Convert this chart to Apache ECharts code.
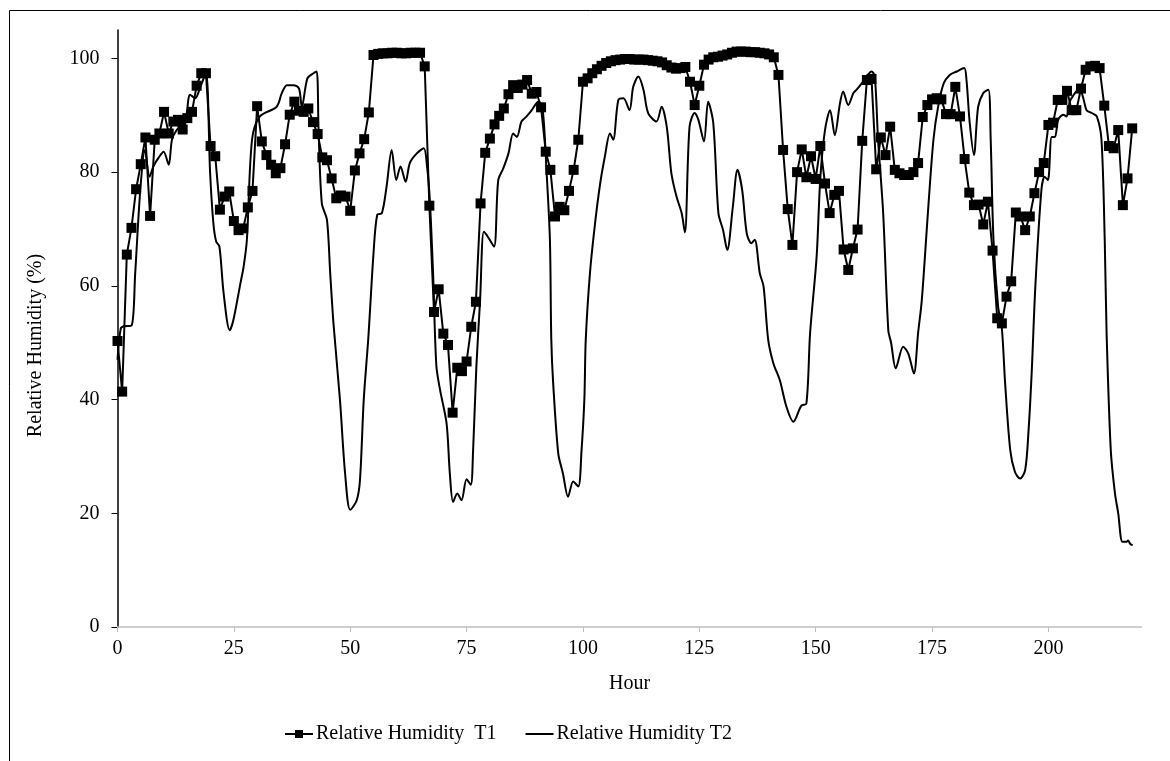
<!DOCTYPE html>
<html>
<head>
<meta charset="utf-8">
<script src="https://cdn.jsdelivr.net/npm/echarts@6/dist/echarts.min.js"></script>
<style>
html,body{margin:0;padding:0;background:#fff;}
#chart{width:1170px;height:761px;}
</style>
</head>
<body>
<div id="chart"></div>
<script>
// Tick labels
const xTicks = [0, 25, 50, 75, 100, 125, 150, 175, 200];
const yTicks = [0, 20, 40, 60, 80, 100];

// Relative Humidity T1: hourly readings, hour 0 .. 218
const t1Values = [
  50.3, 41.4, 65.5, 70.2, 77.0, 81.4, 86.1, 72.3, 85.7, 86.8,
  90.6, 86.8, 88.9, 89.2, 87.5, 89.5, 90.6, 95.2, 97.4, 97.4,
  84.6, 82.8, 73.4, 75.7, 76.6, 71.4, 69.8, 70.1, 73.8, 76.7,
  91.6, 85.4, 83.0, 81.3, 79.8, 80.7, 84.9, 90.1, 92.4, 90.8,
  90.6, 91.2, 88.8, 86.7, 82.6, 82.1, 78.9, 75.4, 75.9, 75.7,
  73.2, 80.3, 83.3, 85.8, 90.5, 100.6, 100.8, 100.9, 100.9, 101.0,
  101.0, 100.9, 100.9, 101.0, 101.0, 101.0, 98.6, 74.1, 55.4, 59.4,
  51.6, 49.6, 37.7, 45.6, 45.0, 46.7, 52.8, 57.2, 74.5, 83.4,
  85.9, 88.4, 89.9, 91.2, 93.7, 95.3, 94.8, 95.4, 96.2, 93.8,
  94.1, 91.4, 83.6, 80.4, 72.2, 73.9, 73.3, 76.7, 80.4, 85.7,
  95.9, 96.5, 97.4, 98.1, 98.7, 99.2, 99.5, 99.7, 99.8, 99.9,
  99.9, 99.8, 99.8, 99.8, 99.7, 99.6, 99.5, 99.3, 98.8, 98.4,
  98.2, 98.3, 98.5, 95.9, 91.8, 95.2, 98.9, 99.8, 100.2, 100.3,
  100.5, 100.7, 101.0, 101.2, 101.2, 101.2, 101.1, 101.1, 101.0, 100.9,
  100.7, 100.2, 97.1, 83.9, 73.5, 67.2, 80.0, 84.0, 79.1, 82.8,
  78.8, 84.6, 78.0, 72.8, 76.0, 76.7, 66.4, 62.8, 66.6, 69.9,
  85.5, 96.2, 96.4, 80.5, 86.1, 83.0, 88.0, 80.4, 79.8, 79.5,
  79.5, 80.0, 81.6, 89.7, 91.8, 92.8, 93.0, 92.8, 90.2, 90.2,
  95.0, 89.8, 82.3, 76.4, 74.2, 74.3, 70.8, 74.8, 66.2, 54.3,
  53.4, 58.1, 60.8, 72.9, 72.2, 69.8, 72.2, 76.3, 80.0, 81.6,
  88.3, 88.7, 92.7, 92.7, 94.3, 90.9, 90.9, 94.7, 98.0, 98.6,
  98.7, 98.3, 91.7, 84.6, 84.2, 87.4, 74.2, 78.9, 87.7
];

// Relative Humidity T2: hours and values
const t2Hours = [
  0, 0.7, 1.4, 3.0, 3.8, 4.9, 5.9, 6.9, 7.7, 8.8, 9.9, 11.0, 11.7, 12.7, 14.5, 15.6, 16.7, 17.8, 19.0,
  19.9, 20.6, 21.2, 21.9, 22.8, 24.1, 24.9, 26.4, 27.1, 27.8, 28.9, 30.6, 34.2, 35.3, 36.4, 37.8, 39.0,
  39.6, 40.8, 42.1, 42.8, 43.2, 43.9, 45.0, 45.7, 46.4, 47.8, 48.9, 50.0, 51.4, 52.1, 52.9, 53.9, 55.0,
  55.8, 56.8, 57.8, 58.9, 59.9, 60.8, 61.9, 62.8, 64.3, 65.8, 66.5, 67.1, 67.8, 68.5, 69.3, 70.7, 71.4,
  72.1, 73.0, 73.9, 75.0, 75.9, 76.4, 77.1, 77.9, 78.7, 79.6, 80.9, 81.8, 82.9, 84.0, 85.0, 85.8, 86.8,
  87.9, 89.0, 90.4, 91.3, 92.2, 92.9, 93.2, 93.6, 94.7, 95.7, 96.8, 97.9, 99.0, 99.7, 100.3, 100.6,
  101.5, 102.6, 103.7, 104.7, 105.8, 106.5, 107.6, 108.7, 110.0, 110.8, 111.9, 113.0, 114.0, 115.8,
  116.9, 118.0, 119.0, 120.1, 121.2, 121.9, 122.9, 124.0, 124.8, 126.0, 126.9, 128.0, 129.1, 130.1,
  131.0, 132.2, 133.2, 134.2, 135.2, 136.2, 136.9, 138.0, 138.8, 139.8, 140.9, 142.3, 143.7, 145.2,
  146.9, 148.0, 148.8, 150.2, 151.0, 152.0, 153.1, 154.1, 155.2, 155.9, 157.0, 158.1, 158.8, 159.9,
  160.9, 162.0, 162.7, 163.4, 164.5, 165.6, 166.2, 167.2, 168.8, 169.9, 171.1, 172.0, 172.8, 174.2,
  175.3, 176.3, 177.5, 178.8, 180.3, 181.9, 182.4, 183.1, 184.0, 184.9, 186.0, 187.1, 187.6, 188.2,
  189.2, 190.0, 190.7, 191.8, 192.8, 193.9, 195.0, 195.7, 196.4, 197.2, 198.5, 199.2, 199.9, 200.7,
  201.4, 202.1, 203.2, 203.9, 204.6, 205.7, 206.7, 207.5, 208.2, 209.3, 210.4, 211.4, 212.1, 212.5,
  213.4, 214.3, 215.0, 215.9, 216.8, 217.1, 217.6, 218.1
];
const t2Values = [
  47.0, 52.5, 52.9, 53.0, 62.2, 76.9, 83.9, 79.2, 81.0, 82.5, 83.6, 81.3, 85.7, 87.4, 88.9, 93.6, 93.0, 95.0, 97.4,
  79.8, 71.0, 67.8, 66.9, 58.7, 52.2, 54.0, 60.4, 63.4, 68.1, 85.7, 89.8, 91.5, 93.9, 95.3, 95.3, 94.7,
  91.5, 96.5, 97.4, 97.7, 87.4, 74.5, 71.6, 62.2, 53.4, 39.9, 27.0, 20.6, 22.3, 25.9, 39.9, 51.0, 65.7,
  72.5, 72.8, 77.4, 83.9, 78.6, 81.0, 78.3, 81.6, 83.3, 84.2, 81.0, 75.1, 62.2, 46.0, 41.7, 35.8, 27.0,
  22.0, 23.5, 22.3, 26.0, 25.0, 31.1, 45.8, 57.5, 69.5, 68.6, 66.9, 78.6, 80.7, 83.3, 86.8, 86.2, 88.9,
  89.8, 90.9, 92.4, 91.5, 79.8, 68.1, 50.5, 42.9, 30.5, 27.0, 22.9, 25.6, 24.7, 31.1, 40.0, 50.5,
  62.2, 71.0, 78.0, 82.7, 86.8, 85.7, 92.7, 93.0, 90.9, 95.0, 96.8, 94.5, 90.4, 88.9,
  91.5, 88.0, 79.8, 75.7, 72.8, 69.4, 88.0, 90.4, 89.2, 85.4, 92.4, 88.6, 72.8, 69.8,
  66.3, 73.9, 80.4, 76.9, 69.2, 67.5, 68.1, 62.2, 59.9, 50.5, 46.4, 43.4, 38.8, 36.1,
  38.9, 39.3, 51.7, 65.1, 79.0, 87.4, 90.9, 86.5, 92.0, 94.2, 91.8, 93.9, 94.5, 95.6,
  96.8, 97.7, 96.8, 85.7, 72.8, 52.2, 50.0, 45.5, 49.3, 48.1, 44.6, 51.7, 57.5, 73.9,
  85.7, 91.5, 95.6, 97.1, 97.7, 98.3, 96.2, 88.6, 83.0, 91.5, 93.9, 94.5, 85.7, 68.1,
  56.3, 52.5, 42.9, 31.1, 27.3, 26.1, 27.6, 34.1, 44.6, 60.0, 76.9, 79.2, 78.6, 86.2,
  86.2, 89.2, 90.1, 89.8, 92.4, 93.9, 94.7, 93.0, 90.9, 90.4, 89.8, 85.7, 68.1, 51.7,
  31.1, 23.5, 20.0, 15.0, 15.0, 15.2, 14.6, 14.4
];

const t1Data = t1Values.map((v, i) => [i, v]);
const t2Data = t2Hours.map((h, i) => [h, t2Values[i]]);

const FONT = '"Liberation Serif", "Times New Roman", serif';

const chart = echarts.init(document.getElementById('chart'), null, {renderer: 'canvas'});
chart.setOption({
  animation: false,
  backgroundColor: '#fff',
  graphic: [{
    type: 'rect',
    shape: {x: 9.5, y: 10.5, width: 1300, height: 900},
    style: {fill: 'none', stroke: '#000', lineWidth: 1},
    silent: true,
    z: -10
  }],
  grid: {left: 117.5, right: 28.5, top: 30, bottom: 134, containLabel: false},
  legend: {
    left: 279,
    top: 719,
    itemWidth: 28,
    itemHeight: 10,
    itemGap: 28,
    textStyle: {fontFamily: FONT, fontSize: 20, color: '#000', padding: [0, 0, 0, -2]},
    data: [
      {name: 'Relative Humidity  T1'},
      {name: 'Relative Humidity T2', itemStyle: {opacity: 0}}
    ]
  },
  xAxis: {
    type: 'value',
    min: 0,
    max: 220,
    interval: 25,
    name: 'Hour',
    nameLocation: 'middle',
    nameGap: 47,
    nameTextStyle: {fontFamily: FONT, fontSize: 20, color: '#000'},
    axisLine: {show: true, onZero: false, lineStyle: {color: '#bfbfbf', width: 1.5}},
    axisTick: {show: true, length: 5, lineStyle: {color: '#bfbfbf', width: 1}, customValues: xTicks},
    axisLabel: {fontFamily: FONT, fontSize: 20, color: '#000', margin: 12, customValues: xTicks},
    splitLine: {show: false}
  },
  yAxis: {
    type: 'value',
    min: 0,
    max: 105,
    interval: 20,
    name: 'Relative Humidity (%)',
    nameLocation: 'middle',
    nameGap: 72,
    nameTextStyle: {fontFamily: FONT, fontSize: 20, color: '#000', padding: [0, 34, 0, 0]},
    axisLine: {show: true, lineStyle: {color: '#000', width: 1.5}},
    axisTick: {show: true, length: 6, lineStyle: {color: '#000', width: 1}, customValues: yTicks},
    axisLabel: {fontFamily: FONT, fontSize: 20, color: '#000', margin: 18, customValues: yTicks},
    splitLine: {show: false}
  },
  series: [
    {
      name: 'Relative Humidity  T1',
      type: 'line',
      data: t1Data,
      symbol: 'rect',
      symbolSize: 10,
      showSymbol: true,
      showAllSymbol: true,
      itemStyle: {color: '#000'},
      lineStyle: {color: '#000', width: 2},
      z: 3
    },
    {
      name: 'Relative Humidity T2',
      type: 'line',
      data: t2Data,
      symbol: 'none',
      smooth: 0.3,
      itemStyle: {color: '#000'},
      lineStyle: {color: '#000', width: 2},
      z: 2
    }
  ]
});
</script>
</body>
</html>
